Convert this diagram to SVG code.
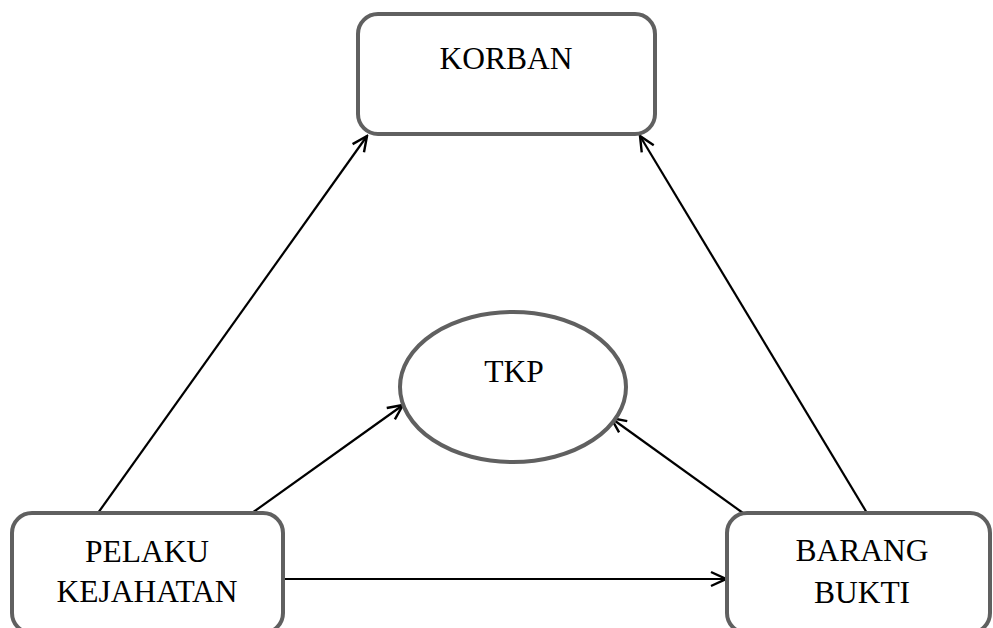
<svg xmlns="http://www.w3.org/2000/svg" width="993" height="628" viewBox="0 0 993 628">
<style>
.node{fill:#fff;stroke:#606060;stroke-width:4}
.lbl{font-family:"Liberation Serif","Times New Roman",serif;font-size:31.5px;fill:#000;text-anchor:middle}
.conn{stroke:#000;stroke-width:2.2;fill:none;marker-end:url(#arr)}
</style>
<defs>
<marker id="arr" markerUnits="userSpaceOnUse" markerWidth="18" markerHeight="18" refX="16" refY="8" orient="auto" viewBox="0 0 18 16">
<path d="M1,1 L16,8 L1,15" fill="none" stroke="#000" stroke-width="2.4"/>
</marker>
</defs>
<rect width="993" height="628" fill="#fff"/>
<g id="connectors">
<line class="conn" x1="98" y1="513" x2="367" y2="136"/>
<line class="conn" x1="252" y1="513" x2="403" y2="405"/>
<line class="conn" x1="285" y1="579" x2="726" y2="579"/>
<line class="conn" x1="743" y1="513" x2="611" y2="418"/>
<line class="conn" x1="867" y1="513" x2="640" y2="136"/>
</g>
<g id="korban">
<rect class="node" x="358" y="14" width="297" height="120" rx="20"/>
<text class="lbl" x="506" y="69">KORBAN</text>
</g>
<g id="tkp">
<ellipse class="node" cx="513" cy="387" rx="113" ry="75"/>
<text class="lbl" x="514" y="382">TKP</text>
</g>
<g id="pelaku">
<rect class="node" x="12" y="513" width="271" height="120" rx="20"/>
<text class="lbl" x="147" y="562">PELAKU</text>
<text class="lbl" x="147" y="602">KEJAHATAN</text>
</g>
<g id="barang">
<rect class="node" x="727" y="513" width="263" height="120" rx="20"/>
<text class="lbl" x="862" y="561">BARANG</text>
<text class="lbl" x="862" y="603">BUKTI</text>
</g>
</svg>
